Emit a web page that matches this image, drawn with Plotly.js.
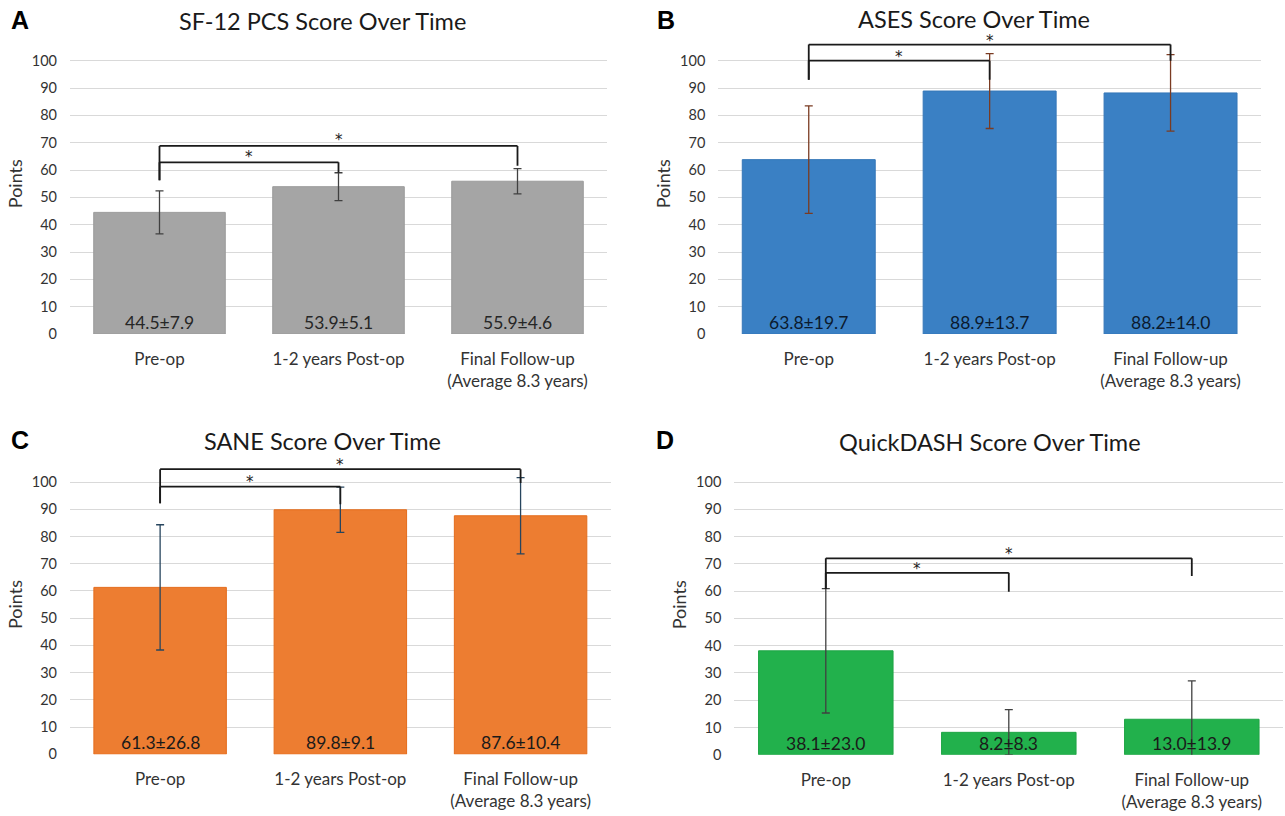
<!DOCTYPE html>
<html>
<head>
<meta charset="utf-8">
<script src="https://cdn.plot.ly/plotly-3.0.1.min.js"></script>
<style>html,body{margin:0;padding:0;background:#fff;}#chart{width:1285px;height:816px;}</style>
</head>
<body>
<div id="chart"></div>
<script>
// ---------- data ----------
const categories = ['Pre-op', '1-2 years Post-op', 'Final Follow-up<br>(Average 8.3 years)'];
const yTicks = [0, 10, 20, 30, 40, 50, 60, 70, 80, 90, 100];

const panelTitles = ['SF-12 PCS Score Over Time', 'ASES Score Over Time', 'SANE Score Over Time', 'QuickDASH Score Over Time'];
const panelLetters = ['A', 'B', 'C', 'D'];

const sf12Mean = [44.5, 53.9, 55.9];
const sf12Err = [7.9, 5.1, 4.6];
const sf12Labels = ['44.5±7.9', '53.9±5.1', '55.9±4.6'];

const asesMean = [63.8, 88.9, 88.2];
const asesErr = [19.7, 13.7, 14.0];
const asesLabels = ['63.8±19.7', '88.9±13.7', '88.2±14.0'];

const saneMean = [61.3, 89.8, 87.6];
const saneErr = [23.0, 8.3, 14.0];
const saneLabels = ['61.3±26.8', '89.8±9.1', '87.6±10.4'];

const qdashMean = [38.1, 8.2, 13.0];
const qdashErr = [22.8, 8.3, 14.1];
const qdashLabels = ['38.1±23.0', '8.2±8.3', '13.0±13.9'];

// significance brackets: [from, to, level, fromBottom, toBottom, starY]
const sf12Brackets = [[0, 1, 62.8, 56.3, 59.1, 65.4], [0, 2, 68.8, 56.3, 61.6, 71.6]];
const asesBrackets = [[0, 1, 100.0, 93.0, 93.0, 102.2], [0, 2, 105.9, 93.0, 100.0, 108.0]];
const saneBrackets = [[0, 1, 98.3, 92.2, 91.8, 100.8], [0, 2, 104.7, 92.2, 99.6, 107.0]];
const qdashBrackets = [[0, 1, 66.7, 60.8, 59.8, 68.8], [0, 2, 72.0, 60.8, 65.5, 74.3]];

// ---------- styling ----------
const FONT = 'Lato, "Open Sans", "Noto Sans", sans-serif';
const panels = [
  {mean: sf12Mean, err: sf12Err, labels: sf12Labels, brackets: sf12Brackets, color: '#a5a5a5', line: '#9b9b9b', errColor: '#404040', textColor: '#262626',
   xd: [70, 607], y0: 334, y100: 60.7, title: [322, 21], letter: [19.5, 20]},
  {mean: asesMean, err: asesErr, labels: asesLabels, brackets: asesBrackets, color: '#3a80c4', line: '#3577b8', errColor: '#7a3b22', textColor: '#0b1a2e',
   xd: [718.3, 1261], y0: 334, y100: 60.7, title: [973.7, 19], letter: [665.5, 20]},
  {mean: saneMean, err: saneErr, labels: saneLabels, brackets: saneBrackets, color: '#ed7d31', line: '#e46c1c', errColor: '#27455e', textColor: '#1a1a1a',
   xd: [70, 610.7], y0: 754.3, y100: 482, title: [322, 441], letter: [19.5, 440]},
  {mean: qdashMean, err: qdashErr, labels: qdashLabels, brackets: qdashBrackets, color: '#22b14c', line: '#1fa545', errColor: '#404040', textColor: '#1a1a1a',
   xd: [734.3, 1283.3], y0: 754.7, y100: 482, title: [990, 442], letter: [664.7, 440]}
];

const W = 1285, H = 816, YMAX = 110;
const traces = [], shapes = [], annotations = [];
const layout = {
  width: W, height: H, margin: {l: 0, r: 0, t: 0, b: 0},
  paper_bgcolor: '#ffffff', plot_bgcolor: '#ffffff',
  showlegend: false, bargap: 0.265,
  font: {family: FONT, color: '#333333'}
};

panels.forEach((p, i) => {
  const n = i === 0 ? '' : String(i + 1);
  const xa = 'x' + n, ya = 'y' + n;
  const pxPerUnit = (p.y0 - p.y100) / 100;
  const yTop = p.y0 - YMAX * pxPerUnit;
  layout['xaxis' + n] = {
    domain: [p.xd[0] / W, p.xd[1] / W], anchor: ya,
    range: [-0.5, 2.5], tickmode: 'array', tickvals: [0, 1, 2], ticktext: categories,
    showgrid: false, zeroline: false, showline: false, ticks: '',
    ticklabelstandoff: 13,
    tickfont: {family: FONT, size: 17, color: '#333333'}, fixedrange: true
  };
  layout['yaxis' + n] = {
    domain: [(H - p.y0) / H, (H - yTop) / H], anchor: xa,
    range: [0, YMAX], tickmode: 'array', tickvals: yTicks,
    showgrid: true, gridcolor: '#d9d9d9', gridwidth: 1, zeroline: false, showline: false, ticks: '',
    ticklabelstandoff: 12,
    tickfont: {family: FONT, size: 14.5, color: '#333333'},
    title: {text: 'Points', font: {family: FONT, size: 18, color: '#333333'}, standoff: 4},
    fixedrange: true
  };
  traces.push({
    type: 'bar', x: [0, 1, 2], y: p.mean, xaxis: xa, yaxis: ya,
    marker: {color: p.color, line: {color: p.line, width: 1}},
    error_y: {type: 'data', array: p.err, visible: true, color: p.errColor, thickness: 1.3, width: 4},
    hoverinfo: 'skip'
  });
  p.labels.forEach((t, k) => {
    annotations.push({xref: xa, yref: ya, x: k, y: 0, yanchor: 'bottom', xanchor: 'center', showarrow: false,
      text: t, font: {family: FONT, size: 17.5, color: p.textColor}, yshift: -1});
  });
  p.brackets.forEach(b => {
    const [a, c, lvl, ab, cb, sy] = b;
    const ln = {color: '#1a1a1a', width: 1.8};
    shapes.push({type: 'line', xref: xa, yref: ya, x0: a, x1: a, y0: ab, y1: lvl, line: ln, layer: 'above'});
    shapes.push({type: 'line', xref: xa, yref: ya, x0: a, x1: c, y0: lvl, y1: lvl, line: ln, layer: 'above'});
    shapes.push({type: 'line', xref: xa, yref: ya, x0: c, x1: c, y0: lvl, y1: cb, line: ln, layer: 'above'});
    annotations.push({xref: xa, yref: ya, x: (a + c) / 2, y: sy, yanchor: 'middle', xanchor: 'center', showarrow: false,
      text: '*', font: {family: '"DejaVu Sans", sans-serif', size: 15, color: '#1a1a1a'}, yshift: -2});
  });
  annotations.push({xref: 'paper', yref: 'paper', x: p.title[0] / W, y: (H - p.title[1]) / H, xanchor: 'center', yanchor: 'middle',
    showarrow: false, text: panelTitles[i], font: {family: FONT, size: 23.5, color: '#1a1a1a'}});
  annotations.push({xref: 'paper', yref: 'paper', x: p.letter[0] / W, y: (H - p.letter[1]) / H, xanchor: 'center', yanchor: 'middle',
    showarrow: false, text: '<b>' + panelLetters[i] + '</b>', font: {family: 'Liberation Sans, Arial, sans-serif', size: 25, color: '#000000'}});
});

layout.shapes = shapes;
layout.annotations = annotations;
Plotly.newPlot('chart', traces, layout, {displayModeBar: false, staticPlot: true});
</script>
</body>
</html>
